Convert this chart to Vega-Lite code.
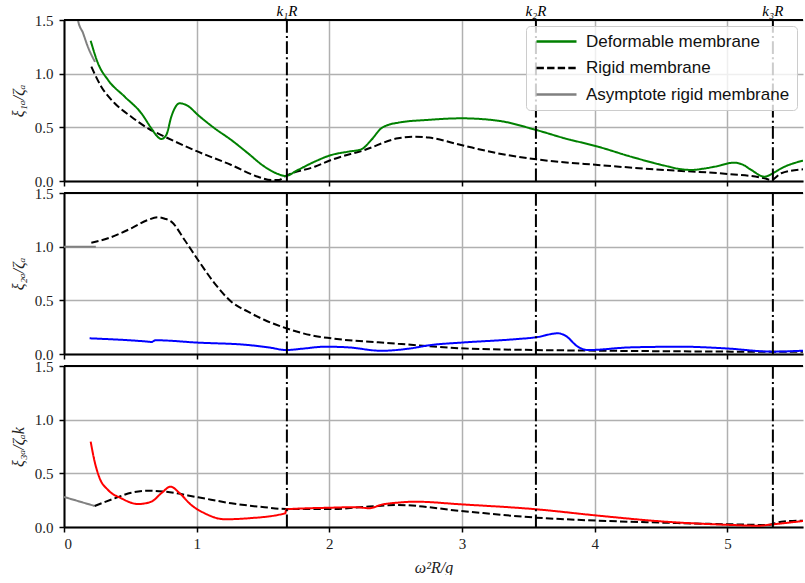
{
  "$schema": "https://vega.github.io/schema/vega-lite/v6.json",
  "autosize": {"type": "pad"},
  "padding": {"left": 10, "top": 4, "right": 0, "bottom": 0},
  "background": "white",
  "spacing": 12,
  "bounds": "flush",
  "datasets": {
    "klines": [
      {"x": 1.68, "label": "k₁R"},
      {"x": 3.557, "label": "k₂R"},
      {"x": 5.343, "label": "k₃R"}
    ],
    "curves": [
      {"p": 1, "s": "Asymptote rigid membrane", "x": 0.095, "y": 1.58},
      {"p": 1, "s": "Asymptote rigid membrane", "x": 0.105, "y": 1.5},
      {"p": 1, "s": "Asymptote rigid membrane", "x": 0.143, "y": 1.38},
      {"p": 1, "s": "Asymptote rigid membrane", "x": 0.18, "y": 1.25},
      {"p": 1, "s": "Asymptote rigid membrane", "x": 0.234, "y": 1.11},

      {"p": 1, "s": "Rigid membrane", "x": 0.206, "y": 1.065},
      {"p": 1, "s": "Rigid membrane", "x": 0.281, "y": 0.879},
      {"p": 1, "s": "Rigid membrane", "x": 0.382, "y": 0.724},
      {"p": 1, "s": "Rigid membrane", "x": 0.507, "y": 0.599},
      {"p": 1, "s": "Rigid membrane", "x": 0.633, "y": 0.491},
      {"p": 1, "s": "Rigid membrane", "x": 0.759, "y": 0.413},
      {"p": 1, "s": "Rigid membrane", "x": 1.01, "y": 0.273},
      {"p": 1, "s": "Rigid membrane", "x": 1.261, "y": 0.149},
      {"p": 1, "s": "Rigid membrane", "x": 1.462, "y": 0.04},
      {"p": 1, "s": "Rigid membrane", "x": 1.562, "y": 0.009},
      {"p": 1, "s": "Rigid membrane", "x": 1.62, "y": 0.01},
      {"p": 1, "s": "Rigid membrane", "x": 1.668, "y": 0.045},
      {"p": 1, "s": "Rigid membrane", "x": 1.889, "y": 0.133},
      {"p": 1, "s": "Rigid membrane", "x": 2.014, "y": 0.196},
      {"p": 1, "s": "Rigid membrane", "x": 2.266, "y": 0.289},
      {"p": 1, "s": "Rigid membrane", "x": 2.517, "y": 0.398},
      {"p": 1, "s": "Rigid membrane", "x": 2.643, "y": 0.413},
      {"p": 1, "s": "Rigid membrane", "x": 2.75, "y": 0.405},
      {"p": 1, "s": "Rigid membrane", "x": 2.994, "y": 0.335},
      {"p": 1, "s": "Rigid membrane", "x": 3.27, "y": 0.258},
      {"p": 1, "s": "Rigid membrane", "x": 3.56, "y": 0.202},
      {"p": 1, "s": "Rigid membrane", "x": 4.024, "y": 0.149},
      {"p": 1, "s": "Rigid membrane", "x": 4.527, "y": 0.103},
      {"p": 1, "s": "Rigid membrane", "x": 5.004, "y": 0.065},
      {"p": 1, "s": "Rigid membrane", "x": 5.28, "y": 0.025},
      {"p": 1, "s": "Rigid membrane", "x": 5.33, "y": 0.009},
      {"p": 1, "s": "Rigid membrane", "x": 5.406, "y": 0.072},
      {"p": 1, "s": "Rigid membrane", "x": 5.57, "y": 0.109},

      {"p": 1, "s": "Deformable membrane", "x": 0.201, "y": 1.307},
      {"p": 1, "s": "Deformable membrane", "x": 0.256, "y": 1.097},
      {"p": 1, "s": "Deformable membrane", "x": 0.332, "y": 0.941},
      {"p": 1, "s": "Deformable membrane", "x": 0.457, "y": 0.786},
      {"p": 1, "s": "Deformable membrane", "x": 0.583, "y": 0.631},
      {"p": 1, "s": "Deformable membrane", "x": 0.658, "y": 0.491},
      {"p": 1, "s": "Deformable membrane", "x": 0.7, "y": 0.42},
      {"p": 1, "s": "Deformable membrane", "x": 0.733, "y": 0.391},
      {"p": 1, "s": "Deformable membrane", "x": 0.771, "y": 0.429},
      {"p": 1, "s": "Deformable membrane", "x": 0.809, "y": 0.6},
      {"p": 1, "s": "Deformable membrane", "x": 0.84, "y": 0.69},
      {"p": 1, "s": "Deformable membrane", "x": 0.872, "y": 0.724},
      {"p": 1, "s": "Deformable membrane", "x": 0.934, "y": 0.699},
      {"p": 1, "s": "Deformable membrane", "x": 1.01, "y": 0.615},
      {"p": 1, "s": "Deformable membrane", "x": 1.135, "y": 0.491},
      {"p": 1, "s": "Deformable membrane", "x": 1.261, "y": 0.382},
      {"p": 1, "s": "Deformable membrane", "x": 1.387, "y": 0.258},
      {"p": 1, "s": "Deformable membrane", "x": 1.512, "y": 0.133},
      {"p": 1, "s": "Deformable membrane", "x": 1.613, "y": 0.065},
      {"p": 1, "s": "Deformable membrane", "x": 1.668, "y": 0.047},
      {"p": 1, "s": "Deformable membrane", "x": 1.763, "y": 0.103},
      {"p": 1, "s": "Deformable membrane", "x": 1.889, "y": 0.18},
      {"p": 1, "s": "Deformable membrane", "x": 2.014, "y": 0.242},
      {"p": 1, "s": "Deformable membrane", "x": 2.14, "y": 0.273},
      {"p": 1, "s": "Deformable membrane", "x": 2.24, "y": 0.295},
      {"p": 1, "s": "Deformable membrane", "x": 2.316, "y": 0.382},
      {"p": 1, "s": "Deformable membrane", "x": 2.391, "y": 0.491},
      {"p": 1, "s": "Deformable membrane", "x": 2.45, "y": 0.525},
      {"p": 1, "s": "Deformable membrane", "x": 2.517, "y": 0.543},
      {"p": 1, "s": "Deformable membrane", "x": 2.75, "y": 0.57},
      {"p": 1, "s": "Deformable membrane", "x": 2.994, "y": 0.584},
      {"p": 1, "s": "Deformable membrane", "x": 3.27, "y": 0.562},
      {"p": 1, "s": "Deformable membrane", "x": 3.56, "y": 0.475},
      {"p": 1, "s": "Deformable membrane", "x": 3.773, "y": 0.398},
      {"p": 1, "s": "Deformable membrane", "x": 4.024, "y": 0.32},
      {"p": 1, "s": "Deformable membrane", "x": 4.275, "y": 0.226},
      {"p": 1, "s": "Deformable membrane", "x": 4.527, "y": 0.143},
      {"p": 1, "s": "Deformable membrane", "x": 4.65, "y": 0.11},
      {"p": 1, "s": "Deformable membrane", "x": 4.727, "y": 0.103},
      {"p": 1, "s": "Deformable membrane", "x": 4.82, "y": 0.115},
      {"p": 1, "s": "Deformable membrane", "x": 4.903, "y": 0.133},
      {"p": 1, "s": "Deformable membrane", "x": 5.054, "y": 0.171},
      {"p": 1, "s": "Deformable membrane", "x": 5.12, "y": 0.15},
      {"p": 1, "s": "Deformable membrane", "x": 5.18, "y": 0.103},
      {"p": 1, "s": "Deformable membrane", "x": 5.28, "y": 0.04},
      {"p": 1, "s": "Deformable membrane", "x": 5.343, "y": 0.072},
      {"p": 1, "s": "Deformable membrane", "x": 5.406, "y": 0.118},
      {"p": 1, "s": "Deformable membrane", "x": 5.57, "y": 0.19},

      {"p": 2, "s": "Asymptote rigid membrane", "x": 0.0, "y": 1.0},
      {"p": 2, "s": "Asymptote rigid membrane", "x": 0.24, "y": 1.0},

      {"p": 2, "s": "Rigid membrane", "x": 0.206, "y": 1.037},
      {"p": 2, "s": "Rigid membrane", "x": 0.332, "y": 1.078},
      {"p": 2, "s": "Rigid membrane", "x": 0.507, "y": 1.171},
      {"p": 2, "s": "Rigid membrane", "x": 0.633, "y": 1.249},
      {"p": 2, "s": "Rigid membrane", "x": 0.708, "y": 1.274},
      {"p": 2, "s": "Rigid membrane", "x": 0.76, "y": 1.26},
      {"p": 2, "s": "Rigid membrane", "x": 0.809, "y": 1.233},
      {"p": 2, "s": "Rigid membrane", "x": 0.909, "y": 1.062},
      {"p": 2, "s": "Rigid membrane", "x": 1.01, "y": 0.876},
      {"p": 2, "s": "Rigid membrane", "x": 1.135, "y": 0.659},
      {"p": 2, "s": "Rigid membrane", "x": 1.261, "y": 0.487},
      {"p": 2, "s": "Rigid membrane", "x": 1.387, "y": 0.394},
      {"p": 2, "s": "Rigid membrane", "x": 1.512, "y": 0.317},
      {"p": 2, "s": "Rigid membrane", "x": 1.675, "y": 0.24},
      {"p": 2, "s": "Rigid membrane", "x": 1.889, "y": 0.168},
      {"p": 2, "s": "Rigid membrane", "x": 2.014, "y": 0.146},
      {"p": 2, "s": "Rigid membrane", "x": 2.517, "y": 0.096},
      {"p": 2, "s": "Rigid membrane", "x": 2.994, "y": 0.053},
      {"p": 2, "s": "Rigid membrane", "x": 3.56, "y": 0.037},
      {"p": 2, "s": "Rigid membrane", "x": 4.024, "y": 0.031},
      {"p": 2, "s": "Rigid membrane", "x": 5.03, "y": 0.022},
      {"p": 2, "s": "Rigid membrane", "x": 5.57, "y": 0.02},

      {"p": 2, "s": "Deformable membrane", "x": 0.193, "y": 0.146},
      {"p": 2, "s": "Deformable membrane", "x": 0.633, "y": 0.115},
      {"p": 2, "s": "Deformable membrane", "x": 0.66, "y": 0.112},
      {"p": 2, "s": "Deformable membrane", "x": 0.69, "y": 0.128},
      {"p": 2, "s": "Deformable membrane", "x": 1.01, "y": 0.106},
      {"p": 2, "s": "Deformable membrane", "x": 1.387, "y": 0.084},
      {"p": 2, "s": "Deformable membrane", "x": 1.55, "y": 0.06},
      {"p": 2, "s": "Deformable membrane", "x": 1.675, "y": 0.037},
      {"p": 2, "s": "Deformable membrane", "x": 1.8, "y": 0.05},
      {"p": 2, "s": "Deformable membrane", "x": 1.965, "y": 0.068},
      {"p": 2, "s": "Deformable membrane", "x": 2.14, "y": 0.062},
      {"p": 2, "s": "Deformable membrane", "x": 2.391, "y": 0.03},
      {"p": 2, "s": "Deformable membrane", "x": 2.6, "y": 0.05},
      {"p": 2, "s": "Deformable membrane", "x": 2.768, "y": 0.084},
      {"p": 2, "s": "Deformable membrane", "x": 2.994, "y": 0.106},
      {"p": 2, "s": "Deformable membrane", "x": 3.39, "y": 0.137},
      {"p": 2, "s": "Deformable membrane", "x": 3.56, "y": 0.156},
      {"p": 2, "s": "Deformable membrane", "x": 3.723, "y": 0.193},
      {"p": 2, "s": "Deformable membrane", "x": 3.78, "y": 0.17},
      {"p": 2, "s": "Deformable membrane", "x": 3.873, "y": 0.068},
      {"p": 2, "s": "Deformable membrane", "x": 3.949, "y": 0.037},
      {"p": 2, "s": "Deformable membrane", "x": 4.275, "y": 0.062},
      {"p": 2, "s": "Deformable membrane", "x": 4.652, "y": 0.068},
      {"p": 2, "s": "Deformable membrane", "x": 4.979, "y": 0.053},
      {"p": 2, "s": "Deformable membrane", "x": 5.343, "y": 0.022},
      {"p": 2, "s": "Deformable membrane", "x": 5.57, "y": 0.031},

      {"p": 3, "s": "Asymptote rigid membrane", "x": 0.0, "y": 0.28},
      {"p": 3, "s": "Asymptote rigid membrane", "x": 0.231, "y": 0.196},

      {"p": 3, "s": "Rigid membrane", "x": 0.231, "y": 0.196},
      {"p": 3, "s": "Rigid membrane", "x": 0.382, "y": 0.267},
      {"p": 3, "s": "Rigid membrane", "x": 0.507, "y": 0.32},
      {"p": 3, "s": "Rigid membrane", "x": 0.633, "y": 0.338},
      {"p": 3, "s": "Rigid membrane", "x": 0.759, "y": 0.329},
      {"p": 3, "s": "Rigid membrane", "x": 1.01, "y": 0.277},
      {"p": 3, "s": "Rigid membrane", "x": 1.261, "y": 0.221},
      {"p": 3, "s": "Rigid membrane", "x": 1.512, "y": 0.184},
      {"p": 3, "s": "Rigid membrane", "x": 1.675, "y": 0.168},
      {"p": 3, "s": "Rigid membrane", "x": 2.014, "y": 0.168},
      {"p": 3, "s": "Rigid membrane", "x": 2.3, "y": 0.19},
      {"p": 3, "s": "Rigid membrane", "x": 2.517, "y": 0.205},
      {"p": 3, "s": "Rigid membrane", "x": 2.994, "y": 0.149},
      {"p": 3, "s": "Rigid membrane", "x": 3.56, "y": 0.087},
      {"p": 3, "s": "Rigid membrane", "x": 4.024, "y": 0.059},
      {"p": 3, "s": "Rigid membrane", "x": 4.527, "y": 0.04},
      {"p": 3, "s": "Rigid membrane", "x": 5.03, "y": 0.025},
      {"p": 3, "s": "Rigid membrane", "x": 5.305, "y": 0.019},
      {"p": 3, "s": "Rigid membrane", "x": 5.406, "y": 0.05},
      {"p": 3, "s": "Rigid membrane", "x": 5.57, "y": 0.059},

      {"p": 3, "s": "Deformable membrane", "x": 0.201, "y": 0.795},
      {"p": 3, "s": "Deformable membrane", "x": 0.231, "y": 0.609},
      {"p": 3, "s": "Deformable membrane", "x": 0.269, "y": 0.454},
      {"p": 3, "s": "Deformable membrane", "x": 0.332, "y": 0.345},
      {"p": 3, "s": "Deformable membrane", "x": 0.432, "y": 0.267},
      {"p": 3, "s": "Deformable membrane", "x": 0.558, "y": 0.214},
      {"p": 3, "s": "Deformable membrane", "x": 0.658, "y": 0.236},
      {"p": 3, "s": "Deformable membrane", "x": 0.733, "y": 0.314},
      {"p": 3, "s": "Deformable membrane", "x": 0.804, "y": 0.376},
      {"p": 3, "s": "Deformable membrane", "x": 0.872, "y": 0.314},
      {"p": 3, "s": "Deformable membrane", "x": 0.959, "y": 0.205},
      {"p": 3, "s": "Deformable membrane", "x": 1.06, "y": 0.128},
      {"p": 3, "s": "Deformable membrane", "x": 1.211, "y": 0.072},
      {"p": 3, "s": "Deformable membrane", "x": 1.387, "y": 0.081},
      {"p": 3, "s": "Deformable membrane", "x": 1.668, "y": 0.128},
      {"p": 3, "s": "Deformable membrane", "x": 1.675, "y": 0.165},
      {"p": 3, "s": "Deformable membrane", "x": 2.014, "y": 0.18},
      {"p": 3, "s": "Deformable membrane", "x": 2.2, "y": 0.185},
      {"p": 3, "s": "Deformable membrane", "x": 2.3, "y": 0.175},
      {"p": 3, "s": "Deformable membrane", "x": 2.4, "y": 0.21},
      {"p": 3, "s": "Deformable membrane", "x": 2.517, "y": 0.227},
      {"p": 3, "s": "Deformable membrane", "x": 2.643, "y": 0.236},
      {"p": 3, "s": "Deformable membrane", "x": 2.994, "y": 0.211},
      {"p": 3, "s": "Deformable membrane", "x": 3.56, "y": 0.165},
      {"p": 3, "s": "Deformable membrane", "x": 4.024, "y": 0.106},
      {"p": 3, "s": "Deformable membrane", "x": 4.527, "y": 0.05},
      {"p": 3, "s": "Deformable membrane", "x": 5.03, "y": 0.019},
      {"p": 3, "s": "Deformable membrane", "x": 5.23, "y": 0.012},
      {"p": 3, "s": "Deformable membrane", "x": 5.343, "y": 0.025},
      {"p": 3, "s": "Deformable membrane", "x": 5.57, "y": 0.056}
    ]
  },
  "resolve": {
    "scale": {"color": "independent", "strokeDash": "independent"},
    "legend": {"color": "independent", "strokeDash": "independent"}
  },
  "vconcat": [
    {
      "width": 739,
      "height": 161,
      "layer": [
        {
          "data": {"name": "curves"},
          "transform": [{"filter": "datum.p == 1"}],
          "mark": {"type": "line", "strokeWidth": 2, "clip": true, "interpolate": "monotone"},
          "encoding": {
            "x": {"field": "x", "type": "quantitative", "scale": {"domain": [0, 5.57], "nice": false, "zero": false},
                  "axis": {"values": [0, 1, 2, 3, 4, 5], "labels": false, "title": null}},
            "y": {"field": "y", "type": "quantitative", "scale": {"domain": [0, 1.5], "nice": false},
                  "axis": {"values": [0, 0.5, 1, 1.5], "format": ".1f", "title": "ξ₁ₐ/ζₐ"}},
            "color": {"field": "s", "type": "nominal",
                      "scale": {"domain": ["Deformable membrane", "Rigid membrane", "Asymptote rigid membrane"], "range": ["#008000", "#000000", "#808080"]},
                      "legend": {"title": null}},
            "strokeDash": {"field": "s", "type": "nominal",
                      "scale": {"domain": ["Deformable membrane", "Rigid membrane", "Asymptote rigid membrane"], "range": [[1, 0], [7.4, 3.2], [1, 0]]},
                      "legend": {"title": null}}
          }
        },
        {
          "data": {"name": "klines"},
          "mark": {"type": "rule", "color": "black", "strokeWidth": 2, "strokeDash": [12.8, 3.2, 2, 3.2]},
          "encoding": {
            "x": {"field": "x", "type": "quantitative"}
          }
        },
        {
          "data": {"name": "klines"},
          "mark": {"type": "text", "font": "Liberation Serif", "fontStyle": "italic", "fontSize": 15, "baseline": "alphabetic", "dy": -4, "color": "black"},
          "encoding": {
            "x": {"field": "x", "type": "quantitative"},
            "y": {"datum": 1.5},
            "text": {"field": "label"}
          }
        },
        {
          "data": {"values": [{}]},
          "mark": {"type": "rule", "color": "black", "strokeWidth": 2},
          "encoding": {"y": {"datum": 1.5}}
        }
      ]
    },
    {
      "width": 739,
      "height": 161,
      "layer": [
        {
          "data": {"name": "curves"},
          "transform": [{"filter": "datum.p == 2"}],
          "mark": {"type": "line", "strokeWidth": 2, "clip": true, "interpolate": "monotone"},
          "encoding": {
            "x": {"field": "x", "type": "quantitative", "scale": {"domain": [0, 5.57], "nice": false, "zero": false},
                  "axis": {"values": [0, 1, 2, 3, 4, 5], "labels": false, "title": null}},
            "y": {"field": "y", "type": "quantitative", "scale": {"domain": [0, 1.5], "nice": false},
                  "axis": {"values": [0, 0.5, 1, 1.5], "format": ".1f", "title": "ξ₂ₐ/ζₐ"}},
            "color": {"field": "s", "type": "nominal",
                      "scale": {"domain": ["Deformable membrane", "Rigid membrane", "Asymptote rigid membrane"], "range": ["#0000ff", "#000000", "#808080"]},
                      "legend": null},
            "strokeDash": {"field": "s", "type": "nominal",
                      "scale": {"domain": ["Deformable membrane", "Rigid membrane", "Asymptote rigid membrane"], "range": [[1, 0], [7.4, 3.2], [1, 0]]},
                      "legend": null}
          }
        },
        {
          "data": {"name": "klines"},
          "mark": {"type": "rule", "color": "black", "strokeWidth": 2, "strokeDash": [12.8, 3.2, 2, 3.2]},
          "encoding": {
            "x": {"field": "x", "type": "quantitative"}
          }
        },
        {
          "data": {"values": [{}]},
          "mark": {"type": "rule", "color": "black", "strokeWidth": 2},
          "encoding": {"y": {"datum": 1.5}}
        }
      ]
    },
    {
      "width": 739,
      "height": 161,
      "layer": [
        {
          "data": {"name": "curves"},
          "transform": [{"filter": "datum.p == 3"}],
          "mark": {"type": "line", "strokeWidth": 2, "clip": true, "interpolate": "monotone"},
          "encoding": {
            "x": {"field": "x", "type": "quantitative", "scale": {"domain": [0, 5.57], "nice": false, "zero": false},
                  "axis": {"values": [0, 1, 2, 3, 4, 5], "format": "d", "title": "ω²R/g", "labelPadding": 4, "titlePadding": 8}},
            "y": {"field": "y", "type": "quantitative", "scale": {"domain": [0, 1.5], "nice": false},
                  "axis": {"values": [0, 0.5, 1, 1.5], "format": ".1f", "title": "ξ₃ₐ/ζₐk"}},
            "color": {"field": "s", "type": "nominal",
                      "scale": {"domain": ["Deformable membrane", "Rigid membrane", "Asymptote rigid membrane"], "range": ["#ff0000", "#000000", "#808080"]},
                      "legend": null},
            "strokeDash": {"field": "s", "type": "nominal",
                      "scale": {"domain": ["Deformable membrane", "Rigid membrane", "Asymptote rigid membrane"], "range": [[1, 0], [7.4, 3.2], [1, 0]]},
                      "legend": null}
          }
        },
        {
          "data": {"name": "klines"},
          "mark": {"type": "rule", "color": "black", "strokeWidth": 2, "strokeDash": [12.8, 3.2, 2, 3.2]},
          "encoding": {
            "x": {"field": "x", "type": "quantitative"}
          }
        },
        {
          "data": {"values": [{}]},
          "mark": {"type": "rule", "color": "black", "strokeWidth": 2},
          "encoding": {"y": {"datum": 1.5}}
        }
      ]
    }
  ],
  "config": {
    "view": {"stroke": null},
    "axis": {
      "domainColor": "black", "domainWidth": 2,
      "tickColor": "black", "tickWidth": 1.5, "tickSize": 5,
      "gridColor": "#b0b0b0", "gridWidth": 1.5,
      "labelFont": "Liberation Serif", "labelFontSize": 15, "labelColor": "#222222", "labelPadding": 6,
      "titleFont": "Liberation Serif", "titleFontStyle": "italic", "titleFontWeight": "normal", "titleFontSize": 16, "titleColor": "#222222",
      "titlePadding": 8
    },
    "legend": {
      "orient": "top-right", "offset": 6,
      "fillColor": "rgba(255,255,255,0.8)", "strokeColor": "#cccccc", "strokeWidth": 1, "cornerRadius": 4,
      "padding": 7,
      "labelFont": "Liberation Sans", "labelFontSize": 17, "labelColor": "#111111", "labelOffset": 36, "labelLimit": 400,
      "symbolType": "M-1,0H7", "symbolSize": 100, "symbolStrokeWidth": 2.5,
      "rowPadding": 8.5
    }
  }
}
